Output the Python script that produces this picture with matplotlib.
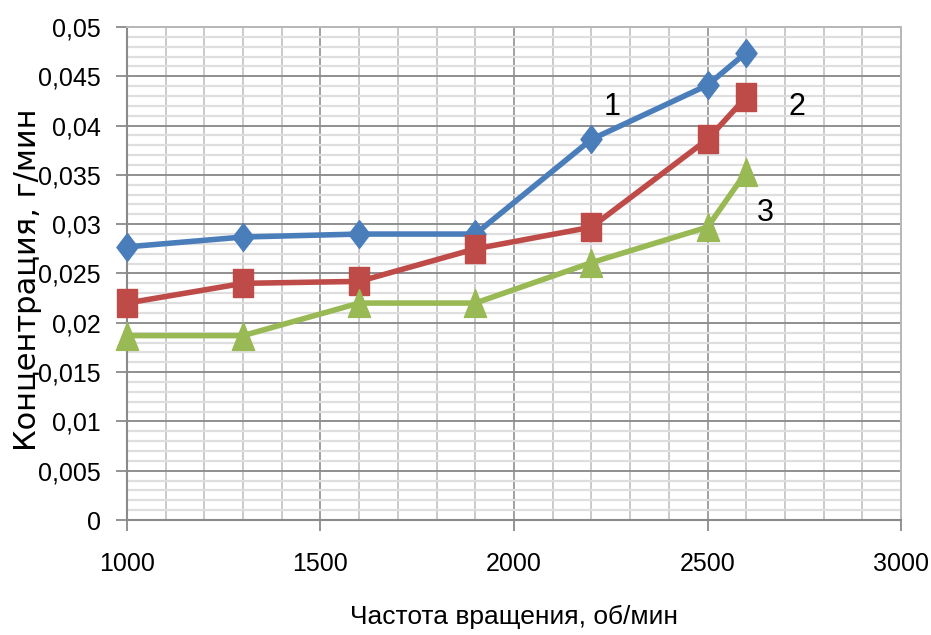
import matplotlib
matplotlib.use("Agg")
import matplotlib.pyplot as plt
from matplotlib.ticker import MultipleLocator, FuncFormatter

plt.rcParams['font.family'] = ['Liberation Sans', 'DejaVu Sans']

x = [1000, 1300, 1600, 1900, 2200, 2500, 2600]
s1 = [0.0277, 0.0287, 0.0290, 0.0290, 0.0386, 0.0441, 0.0474]
s2 = [0.0220, 0.0240, 0.0242, 0.0275, 0.0297, 0.0386, 0.0429]
s3 = [0.0187, 0.0187, 0.0220, 0.0220, 0.0261, 0.0297, 0.0353]
series_labels = ["1", "2", "3"]
label_pos = [(2253, 0.0419), (2731, 0.0419), (2649, 0.0311)]
xlabel = "Частота вращения, об/мин"
ylabel = "Концентрация, г/мин"

fig = plt.figure(figsize=(9.31, 6.35), dpi=100)
ax = fig.add_axes([0.1364, 0.1811, 0.8314, 0.7764])

ax.set_xlim(1000, 3000)
ax.set_ylim(0, 0.05)
ax.xaxis.set_major_locator(MultipleLocator(500))
ax.xaxis.set_minor_locator(MultipleLocator(100))
ax.yaxis.set_major_locator(MultipleLocator(0.005))
ax.yaxis.set_minor_locator(MultipleLocator(0.001))

ax.grid(which='major', axis='y', color='#8f8f8f', linewidth=1.4)
ax.grid(which='minor', axis='y', color='#dedede', linewidth=1.6)
ax.grid(which='major', axis='x', color='#a0a0a0', linewidth=1.4)
ax.grid(which='minor', axis='x', color='#c6c6c6', linewidth=1.3)
ax.set_axisbelow(True)

for sp in ['top', 'right']:
    ax.spines[sp].set_color('#b8b8b8')
    ax.spines[sp].set_linewidth(1.4)
for sp in ['left', 'bottom']:
    ax.spines[sp].set_color('#8a8a8a')
    ax.spines[sp].set_linewidth(1.5)

ax.tick_params(which='major', direction='out', length=8, width=1.3, color='#8a8a8a', labelsize=18)
ax.tick_params(which='minor', length=0)
ax.tick_params(axis='x', pad=15)
ax.tick_params(axis='y', pad=11)

def fmt(v, pos):
    s = ('%.3f' % v).rstrip('0').rstrip('.')
    return s.replace('.', ',')
ax.yaxis.set_major_formatter(FuncFormatter(fmt))
ax.xaxis.set_major_formatter(FuncFormatter(lambda v, p: '%d' % v))

diamond = [(0, 1), (0.76, 0), (0, -1), (-0.76, 0), (0, 1)]
rect = [(-0.74, -1), (0.74, -1), (0.74, 1), (-0.74, 1), (-0.74, -1)]
tri = [(0, 1), (0.8, -1), (-0.8, -1), (0, 1)]

ax.plot(x, s1, color='#4a7ebb', linewidth=4, marker=diamond, markersize=20, clip_on=False, zorder=3)
ax.plot(x, s2, color='#be4b48', linewidth=4, marker=rect, markersize=20, clip_on=False, zorder=3)
ax.plot(x, s3, color='#98b954', linewidth=4, marker=tri, markersize=20, clip_on=False, zorder=3)

for lab, (lx, ly) in zip(series_labels, label_pos):
    ax.text(lx, ly, lab, fontsize=22, ha='center', va='center', color='black')

ax.set_xlabel(xlabel, fontsize=19, labelpad=21)
fig.text(36 / 931, 1 - 280 / 635, ylabel, fontsize=22, rotation=90,
         rotation_mode='anchor', ha='center', va='baseline', family=['DejaVu Sans'])

fig.savefig('out.png', dpi=100)
